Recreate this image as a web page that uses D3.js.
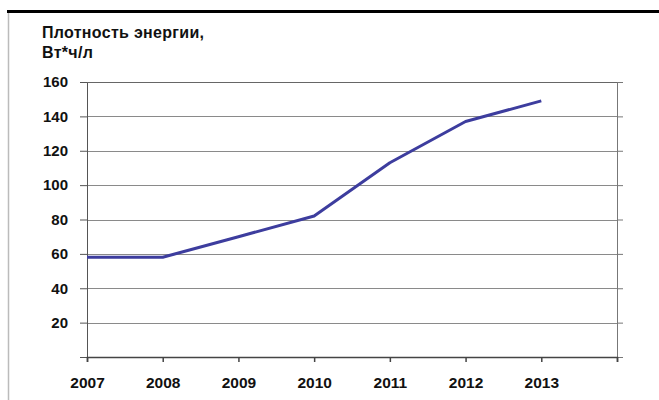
<!DOCTYPE html>
<html>
<head>
<meta charset="utf-8">
<script src="https://cdn.jsdelivr.net/npm/d3@7"></script>
<style>
  body { margin: 0; background: #fff; }
  text { font-family: "Liberation Sans", Arial, sans-serif; font-weight: bold; fill: #111; }
</style>
</head>
<body>
<script>
// Datos del gráfico
const years = [2007, 2008, 2009, 2010, 2011, 2012, 2013];
const density = [58, 58, 70, 82, 113, 137, 149];
const yTicks = [20, 40, 60, 80, 100, 120, 140, 160];
const titleLines = ["Плотность энергии,", "Вт*ч/л"];

const WIDTH = 659;
const HEIGHT = 400;
const MARGIN = { top: 82, bottom: 43, left: 87, right: 42 };
const HEIGHTVIS = HEIGHT - MARGIN.top - MARGIN.bottom;
const WIDTHVIS = WIDTH - MARGIN.left - MARGIN.right;

const svg = d3.select("body").append("svg")
  .attr("width", WIDTH)
  .attr("height", HEIGHT);

// Marco de la imagen
svg.append("line")
  .attr("x1", 7).attr("x2", WIDTH).attr("y1", 11.5).attr("y2", 11.5)
  .attr("stroke", "#000").attr("stroke-width", 3);
svg.append("line")
  .attr("x1", 8.5).attr("x2", 8.5).attr("y1", 13).attr("y2", HEIGHT)
  .attr("stroke", "#bbb").attr("stroke-width", 1.5);

// Título
svg.append("text")
  .attr("x", 42).attr("y", 38)
  .attr("font-size", 16)
  .attr("letter-spacing", 0.3)
  .selectAll("tspan")
  .data(titleLines)
  .join("tspan")
  .attr("x", 42)
  .attr("dy", (d, i) => i === 0 ? 0 : 20)
  .text(d => d);

// Escalas
const x = d3.scaleLinear()
  .domain([years[0], years[years.length - 1] + 1])
  .range([0, WIDTHVIS]);
const y = d3.scaleLinear()
  .domain([0, 160])
  .range([HEIGHTVIS, 0]);

const vis = svg.append("g")
  .attr("transform", `translate(${MARGIN.left}, ${MARGIN.top})`);

// Líneas de cuadrícula
vis.append("g")
  .selectAll("line")
  .data(yTicks)
  .join("line")
  .attr("x1", 0).attr("x2", WIDTHVIS)
  .attr("y1", d => Math.round(y(d)) + 0.5)
  .attr("y2", d => Math.round(y(d)) + 0.5)
  .attr("stroke", "#8a8a8a").attr("stroke-width", 1);

// Eje Y izquierdo
const ejeY = vis.append("g")
  .call(d3.axisLeft(y).tickValues([0].concat(yTicks)).tickSize(7).tickPadding(12).tickFormat(d => d === 0 ? "" : d));
ejeY.selectAll("text").attr("font-size", 15).attr("fill", "#111");
ejeY.selectAll("line, path").attr("stroke", "#555");

// Eje Y derecho (solo marcas)
const ejeYDer = vis.append("g")
  .attr("transform", `translate(${WIDTHVIS}, 0)`)
  .call(d3.axisRight(y).tickValues([0].concat(yTicks)).tickSize(6).tickFormat(""));
ejeYDer.selectAll("line, path").attr("stroke", "#777");

// Eje X
const ejeX = vis.append("g")
  .attr("transform", `translate(0, ${HEIGHTVIS})`)
  .call(d3.axisBottom(x)
    .tickValues(years.concat([years[years.length - 1] + 1]))
    .tickSize(5).tickPadding(15)
    .tickFormat(d => years.includes(d) ? d : ""));
ejeX.selectAll("text").attr("font-size", 15.5).attr("fill", "#111");
ejeX.selectAll("line, path").attr("stroke", "#444").attr("stroke-width", 1.5);

// Línea superior del área
vis.append("line")
  .attr("x1", 0).attr("x2", WIDTHVIS).attr("y1", 0.5).attr("y2", 0.5)
  .attr("stroke", "#666");

// Serie
const datos = years.map((yr, i) => ({ year: yr, value: density[i] }));
vis.append("path")
  .datum(datos)
  .attr("fill", "none")
  .attr("stroke", "#3d3d9e")
  .attr("stroke-width", 3)
  .attr("stroke-linejoin", "round")
  .attr("d", d3.line().x(d => x(d.year)).y(d => y(d.value)));
</script>
</body>
</html>
